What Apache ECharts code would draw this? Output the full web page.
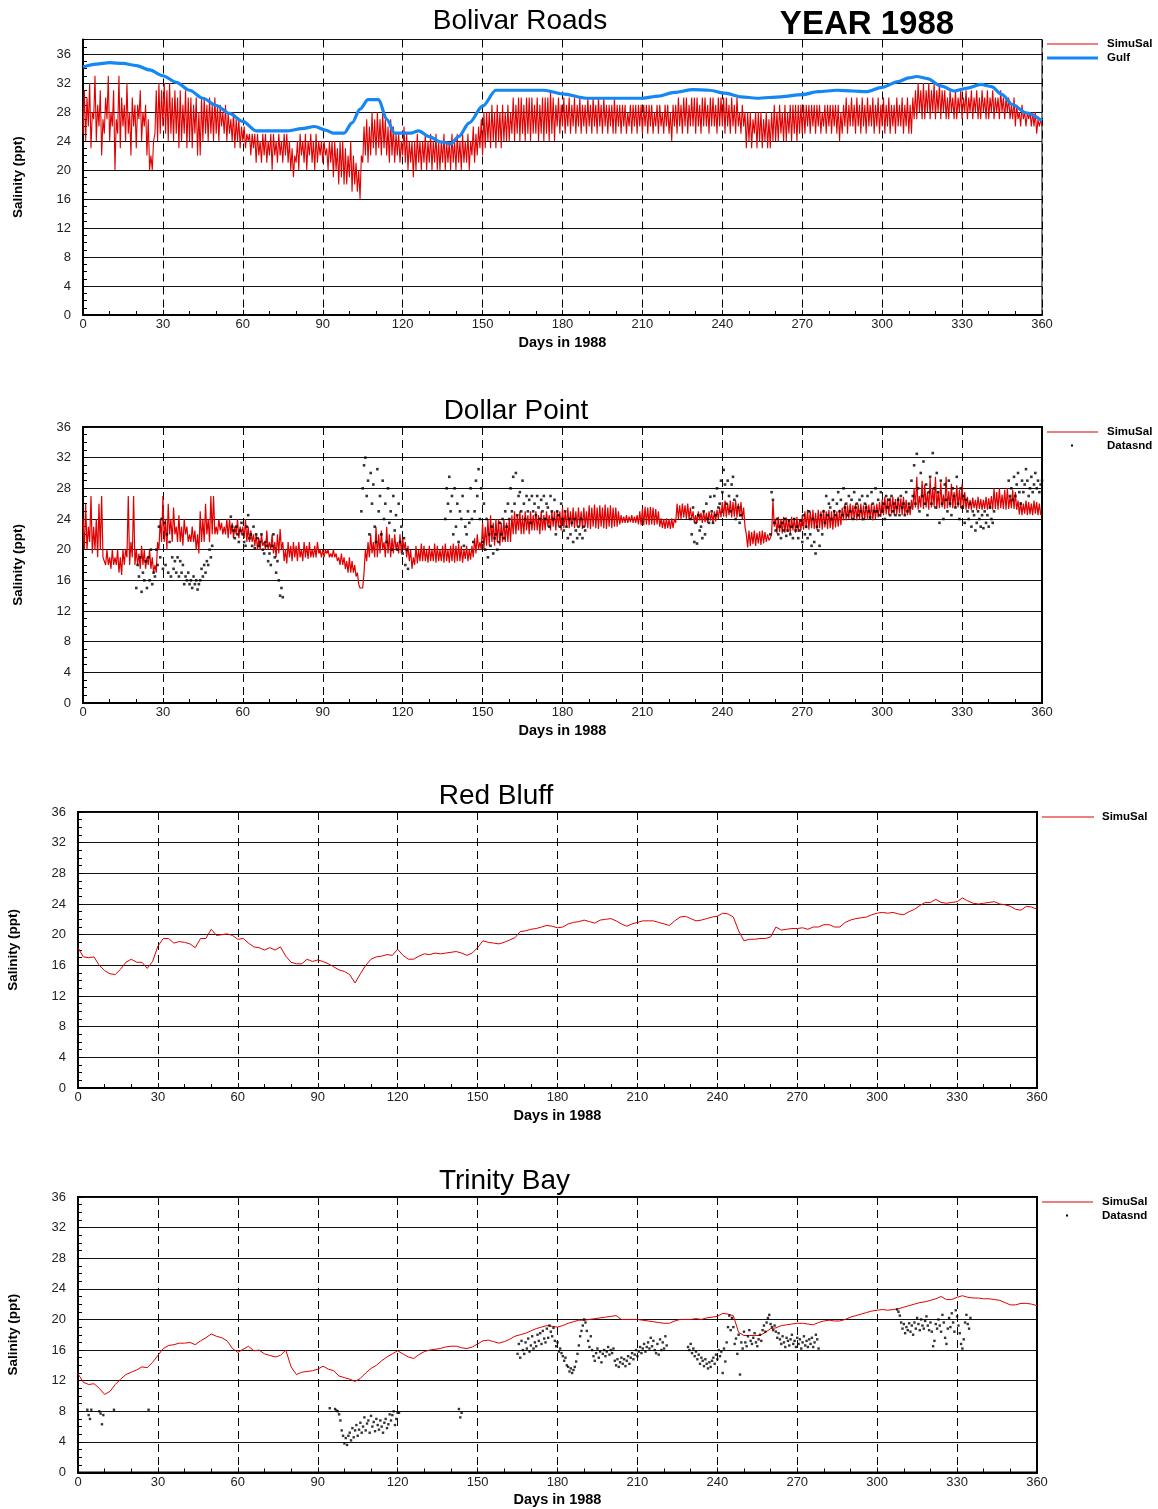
<!DOCTYPE html>
<html><head><meta charset="utf-8">
<script src="https://cdn.jsdelivr.net/npm/echarts@6/dist/echarts.min.js"></script>
<style>html,body{margin:0;padding:0;background:#fff}#c{width:1158px;height:1509px}</style>
</head><body><div id="c"></div>
<script>
// ---------------- DATA ----------------
// Bolivar Roads simulated salinity, one value every 0.5 day from day 0
const brSim = [
25,31,24,30,26,32,23,28,27,33,24,29,26,31,22,27,25,30,27,33,
24,28,26,31,20,27,25,33,23,30,26,29,24,32,25,28,22,30,26,29,
23,29,27,31,24,28,26,29,22,27,20,22,20,24,25,31,24,32,25,31,
26,32,25,31,24,32,25,30,24,31,25,30,23,31,24,29,25,31,23,30,
24,30,23,29,25,30,22,28,22,30,24,30,25,29,24,30,25,29,24,30,
25,29,24,29,26,28,25,29,24,28,25,27,24,28,23,27,24,27,23,26,
24,26,23,25,24,25,22,25,23,25,21,25,22,24,21,25,22,25,21,24,
22,25,20,25,22,24,21,25,22,24,21,25,22,25,21,24,20,23,19,22,
21,24,20,25,22,24,21,25,20,24,22,25,21,24,20,25,21,24,22,24,
21,24,22,23,20,24,21,24,19,24,20,23,18,24,19,24,18,23,18,22,
19,24,17,22,18,21,17,20,16,22,21,26,22,27,21,26,22,28,23,27,
22,28,23,27,22,28,23,27,22,26,21,27,22,26,21,25,22,25,21,24,
22,26,21,25,20,24,21,24,19,24,20,25,21,24,20,24,21,25,20,24,
21,25,20,24,21,25,20,24,20,24,21,25,20,24,21,24,20,25,21,24,
20,25,21,24,20,25,21,24,21,25,20,24,22,26,21,25,22,26,23,27,
22,28,23,28,24,28,23,29,24,28,23,29,24,28,23,29,24,28,24,29,
24,28,25,30,24,29,25,30,24,30,25,29,24,30,25,30,24,30,25,29,
25,30,24,29,25,30,24,30,25,30,24,31,25,30,24,29,26,30,25,29,
26,30,25,29,26,30,25,29,26,30,25,29,26,30,25,29,26,29,25,30,
26,29,25,30,26,29,25,30,26,29,25,30,26,29,25,29,26,29,25,30,
25,29,26,29,25,29,26,29,25,28,26,29,25,29,26,29,25,29,26,29,
25,29,26,29,25,29,26,29,25,28,26,29,25,29,26,28,25,29,26,29,
25,28,24,29,26,29,25,30,26,29,25,30,26,30,25,29,26,30,26,30,
25,30,26,29,25,30,26,30,26,29,25,30,26,30,26,29,25,30,26,30,
26,30,25,30,26,29,25,30,26,29,25,30,26,28,25,29,26,28,23,28,
24,28,23,27,25,28,23,28,24,28,23,27,24,28,23,27,23,28,24,29,
24,28,24,29,25,28,24,29,24,28,25,29,24,29,25,29,24,29,25,29,
25,29,25,29,26,29,25,29,26,29,25,29,26,29,25,28,26,29,25,29,
26,29,25,29,26,29,25,29,24,28,25,29,26,30,25,29,26,30,26,29,
25,30,26,29,25,30,26,29,25,30,26,29,26,30,25,29,26,30,25,29,
26,30,25,29,26,30,25,29,26,29,25,30,26,29,26,30,25,29,26,30,
25,29,25,30,27,31,27,32,28,31,27,32,27,31,28,32,27,31,28,32,
27,31,28,32,27,31,28,31,27,30,27,31,28,30,27,31,27,30,28,31,
27,30,28,31,27,30,28,31,27,30,28,31,27,30,27,31,28,30,27,31,
27,30,28,31,27,30,28,30,27,31,28,30,27,30,28,30,27,29,27,30,
26,29,27,28,26,29,27,28,26,28,27,28,26,28,26,28,25,27,26,27,
26];

// Gulf boundary salinity: [day, value]
const gulf = [[0,34.2],[5,34.6],[10,34.8],[15,34.7],[20,34.4],[25,33.8],[30,33.0],[35,32.1],[40,31.0],[45,29.9],[50,28.9],[55,27.8],[60,26.7],[65,25.4],[70,25.4],[77,25.4],[82,25.7],[87,26.0],[91,25.5],[94,25.1],[98,25.1],[101,26.5],[104,28.4],[107,29.7],[111,29.7],[114,27.0],[117,25.1],[123,25.1],[126,25.4],[130,24.6],[134,23.9],[138,23.6],[141,24.6],[145,26.5],[150,28.8],[155,31.0],[173,31.0],[180,30.5],[189,29.9],[210,29.9],[216,30.2],[222,30.7],[229,31.1],[235,31.0],[241,30.6],[247,30.1],[253,29.9],[262,30.1],[270,30.4],[276,30.8],[283,31.0],[289,30.9],[294,30.8],[300,31.4],[306,32.2],[310,32.7],[313,32.9],[317,32.6],[322,31.6],[327,30.9],[332,31.3],[337,31.8],[341,31.5],[345,30.4],[349,29.0],[354,27.9],[360,26.8]];

// Dollar Point simulated salinity, every 0.5 day from day 0
const dpSim = [
24,20,26,20,23,21,27,19.5,23,20,24,19,26,20,27,19,19,18,20,18,
19,17.5,20,18,19,18,20,17,19,16.7,20,18,20,19,27,18,21,19,27,18,
20,18,19.5,17.5,20.5,18,20,17.5,19,18,20,17.5,19,17,18,17,21,20,24,21,
27,21,24,20,26,22,24,21,25.5,22,23,21,24.5,21,23,20.5,24,22,23,21,
22,21,23,21,22.5,20,22,19.5,25,21,24,21,26,22,24,21,27,22,27,22,
23,22,24,22.5,23.5,22,23,22,24,21.5,24,22,23.5,21.5,23,22,24,21.5,23,22,
23,21.5,24,21,23,21,22.5,21,22,20.5,22,20,21.5,20,22,20.5,21,20,22.5,20,
21,20,22,19.5,21,19,22,19.5,22.7,20,21,18.5,20,18.2,21,19,20.5,18.5,21,19,
20.5,18.5,21,19,20,18.5,21,19,20.5,18.8,21,19,20,19,20.5,19,21,19.5,20,19,
20,19,20,19.5,20,19,19.5,19,20,19,19.5,18.5,19,18,19.5,18,19,17.5,18.5,17,
19,17,18.5,17,18,16.5,17,15.5,15,14.8,15,17,20,18.5,21,19,22,19.5,21,19,
23,19,22,19.5,22.5,20,21,19,23,19.5,22,19,21.5,19.5,22,20,21,19.5,22,19.5,
21.6,20,21,19,20.5,18.5,20,17.5,19,18,20.5,18.2,20,18.5,20.8,18.5,20.5,18.5,20,18.3,
20.5,18.5,20,18.5,20.8,18.3,20.5,18.5,20,18.5,20.5,18.3,20.8,18.5,20,18.3,20.5,18.5,20.8,18.3,
20.5,18.5,20.8,18.5,20.5,18.3,20,18.8,20.5,18.5,20,18.7,20.5,19,21.5,19.5,22,20,21,20,
23.5,20,23,20.5,24,20.5,24.5,21,23.5,20.5,24,21,24,20.5,23.5,21,24,21,23.5,21,
24,21,24.5,22,25,22,24.5,22.5,25,22,24.5,22,25,22.5,24.5,22,25,22.5,24.5,22.5,
25,22.5,24.5,22,25,22.5,24.5,22.5,25,23,24.5,22.5,25,23,25,22.5,25,23,25,22.5,
25.5,22.8,25,23,25.5,22.8,25,23,25.5,22.8,25,23,25.5,23,25,22.7,25.5,23,25,22.8,
25.8,22.7,25.5,23,25.9,22.8,25.5,22.7,25.8,23,25.5,22.8,25.9,22.7,25.5,23,25.8,22.8,25.5,23,
25.5,23,25,23.3,24.5,23.5,24.3,23.5,24.5,23.5,24.3,23.6,24.5,23.5,24.3,23.5,24.5,23.3,25,23.2,
25.4,23.2,25.6,23.3,25.5,23.2,25.6,23.3,25.5,23.2,25.3,23.3,25,23,24.1,22.8,24,22.7,24.1,22.8,
24,22.7,24.1,22.8,24,23.5,26,24,25.8,24,26,24.2,25.8,24,26,24,25.5,24,25,23.5,
24.5,23.5,25,23.8,24.8,23.5,25,23.6,24.8,23.5,25,23.8,24.8,23.5,25,23.7,25.2,24,25.5,24.2,
26.2,24.3,26.4,24.2,26,24.5,26.4,24.2,26.2,24.3,26.4,24.2,26,24.3,26.2,24,25.5,23,22,20.3,
22.5,20.5,22.3,20.7,22.5,20.5,22.2,20.8,22.4,20.6,22.5,20.8,22.3,21,22,21.2,21.5,22,26.4,23,
24,22.1,24.3,22.3,24,22.1,24.3,22.2,24.2,22.3,24,22.1,24.3,22.5,24.1,22.2,24.3,22.3,24,22.5,
24.5,22.6,25,22.8,25.2,22.6,25,22.8,25.2,22.7,24.8,22.6,25.2,22.8,25,22.6,25.2,22.9,25,22.7,
25.2,22.8,25,22.6,25.2,22.9,25,23,25.2,23.2,25.5,23.8,26,23.8,25.8,24,26,23.9,25.8,24,
26,23.8,25.9,24,26,23.8,25.8,24,26,23.9,25.9,24,26,23.8,25.8,24,26,24.2,26.2,24.3,
26.5,24.5,26.9,24.6,26.7,24.5,26.8,24.7,26.9,24.5,26.6,24.6,26.9,24.8,26.7,24.5,26.9,24.6,26.5,24.5,
26,24.5,26.5,25.2,28,25.5,29.5,25.2,27,25.5,29,25.3,28.5,25.5,27.5,25.2,29.3,25.5,28,25.6,
29.5,25.3,27.5,25.4,28.8,25.5,27.2,25.3,29.5,25.4,27.6,25.5,28.6,25.4,27.5,25.5,28.4,25.5,27.8,25.4,
28.6,25.3,27.5,25.2,26.9,25.3,26.5,25.2,26.8,25.4,26.5,25.2,26.9,25.3,26.6,25.2,26.5,25.3,26.9,25.2,
26.7,25.3,27,25.2,28,25.3,27.5,25.2,28,25.4,27.2,25.3,27.8,25.2,28,25.3,27,25.4,27.8,25.3,
27.5,25.2,26.4,24.6,26.2,24.5,26,24.7,26.4,24.5,26.2,24.6,26,24.5,26.4,24.7,26.2,24.5,26,24.6,
24.5];

// Dollar Point observed (Datasnd): [first day, values every 0.5 day]
const dpObs = [
 [20,[15,18,16.5,19,14.5,17,16,18.5, 15,19,16,20,15.5,17,16.5,20, 18,23,19,24,17.5,23.5,18,22,
      17,21,16.5,19,17.5,18.5,17,19, 16.5,18.5,17,18,15.5,16.5,16,17, 15.5,16,15,16.5,15.5,16,14.8,15.5,
      16,17.5,16.5,18,17,18.5,18,20,19,20.5]],
 [55.5,[24.3,23,22.5,21.5,23,22,21,22.5,23.5,22,21,20.5, 23,24.5,21.5,22,20.5,23,20.2,22,
        21.5,20.5,21,22,20,19.5,21,20.5,18.5,19.5,18,20.5, 22,19,17,18.5,16,14,15,13.8]],
 [104.5,[25,28,31,32,27,29,22,30,26,28.5,23,21, 30.5,25,27,22,29,24,26,21,28,23.5,25,20,
         27,22.5,24.5,20,26,21,23,19.5,21.5,18,20,17.5]],
 [136,[24,28,26,29.5,25,27,22,28, 23,26,21,25,24,27,20.5,23,22,25,23.5,28,24,21,25,29,
       27,30.5,24,28,21,26,20,24,19,22,20.5,23,19.5,21.5,22,20, 21,23.5,22,24,21.5,25,23,26,24,28,25,29.5,26,30,24.5,27,
       27.5,25,29,26,24,27,25,26.5,23.5,27,25,26,24.5,27,25.5,24, 26.5,25,27,24,26,25.5,23,27,25,24,26.5,22,25,24.5,23,26,
       24,22.5,25,23,21.5,24,22,23.5,21,24,22.5,21.5,23,22,24,21.5,23,22.5]],
 [228,[24,22,25.5,21,23.5,20.8,24.5,22.5,23,21.5,25,22,26,24,23.5,26.9,25,23.5,
       27,24.5,28,25.5,26,29,27.5,30.4,28.5,26,29,27,25,28.5,29.5,26.5,24,27,25.5,23.5,24.5]],
 [258,[22,27.5,26.5,23.5,22.5,24,22,23,21.5,23.5,22.5,24,21.8,22.5,23.8,22,23,21.5,24,22.5,
       23,21.5,22.5,23.8,21,24.5,22,23,21.5,25,22,20.5,24,21,19.5,23,22.5,20.5,24.5,22,
       25,23.5,27,24.5,26,25.5,24,26.5,25,24.5,26,27.5,25,26.5,24.5,28,25.5,26,24.5,27,
       25,26.5,24,27.5,25.5,26,24.5,26.5,25,27,24,26,25.5,27,25,24.2,27.5,26,25,28,
       25,26.5,24.5,27.5,25,26,24,27,25.5,26.5,24.5,27,25,26,24.5,25.5,26.5,24.5,27,25.5,
       26,24.5,27.5,25,26,25.5,29,27,31,26,32.5,28,25,30,27,31.5,26,28.5,24.5,27.5,
       29.5,26,32.6,28,25.5,30,27.5,23.5,29,26,24,28.5,26.5,25,29,26,24.5,28,27,25.5,
       29.5,26,24,28,25.5,27,23.5,26.5,25,24,26,23,25,24.5,22.5,23.5,25,24,23,
       24.5,22.8,25,23.5,24.5,23,25.5,24,23.5,25]],
 [347.5,[29,27,28,26.5,29.5,27,28.5,30,27.5,26,29,27.5,28.5,30.5,29,27,28,29.5,27.5,28.5,30,28,29,27.5,28.5,29]]
];

// Red Bluff simulated salinity, one value every 2 days from day 0
const rbSim = [18.3,17.1,17.0,17.1,16.0,15.3,14.9,14.8,15.5,16.4,16.8,16.4,16.4,15.6,16.5,18.5,19.5,19.5,18.9,19.1,
19.0,18.8,18.3,19.5,19.5,20.7,19.9,20.0,20.1,19.9,19.4,19.5,18.9,18.4,18.3,18.0,18.3,18.0,18.4,17.2,
16.4,16.2,16.2,16.8,16.5,16.7,16.5,16.2,15.8,15.4,15.2,14.8,13.7,14.9,16.0,16.8,17.1,17.2,17.4,17.3,
18.1,17.3,16.8,16.8,17.2,17.5,17.4,17.6,17.5,17.6,17.7,17.8,17.6,17.3,17.6,18.3,19.2,19.0,18.9,18.8,
19.0,19.3,19.6,20.4,20.5,20.7,20.8,21.0,21.2,21.1,20.9,21.0,21.4,21.6,21.7,21.9,21.7,21.5,21.9,22.0,
22.1,21.8,21.4,21.1,21.4,21.6,21.8,21.8,21.8,21.6,21.4,21.2,21.8,22.3,22.4,22.1,21.8,21.9,22.1,22.3,
22.4,22.8,22.7,22.3,20.5,19.2,19.4,19.4,19.5,19.5,19.7,21.0,20.6,20.7,20.8,20.8,20.9,20.7,21.0,21.0,
21.3,21.3,21.0,21.0,21.6,21.9,22.1,22.2,22.3,22.6,22.8,22.9,22.8,22.9,22.7,22.6,23.0,23.3,23.8,24.2,
24.2,24.6,24.2,24.1,24.2,24.3,24.8,24.4,24.1,24.0,24.1,24.2,24.3,24.0,23.9,23.7,23.3,23.2,23.7,23.6,23.3];

// Trinity Bay simulated salinity, one value every 2 days from day 0
const tbSim = [12.9,11.8,11.5,11.6,11.0,10.2,10.6,11.5,12.2,12.8,13.1,13.4,13.8,13.7,14.4,15.3,16.2,16.6,16.7,16.9,
16.9,17.0,16.7,17.2,17.6,18.1,17.8,17.6,17.2,16.2,15.7,16.1,16.5,15.9,16.0,15.5,15.3,15.1,15.3,16.0,
13.8,12.8,13.1,13.2,13.3,13.5,13.9,13.5,13.3,12.6,12.4,12.2,11.9,12.3,13.0,13.6,14.0,14.6,15.1,15.5,
15.9,15.5,15.1,14.9,15.4,15.8,16.0,16.1,16.2,16.4,16.5,16.5,16.3,16.2,16.4,16.8,17.2,17.3,17.1,16.9,
17.1,17.4,17.8,18.0,18.2,18.5,18.8,19.0,19.2,19.1,19.0,19.2,19.5,19.7,19.9,19.9,20.0,20.1,20.2,20.3,
20.4,20.5,20.0,20.0,20.0,20.0,19.9,19.8,19.7,19.6,19.5,19.5,19.8,20.0,20.0,20.0,20.1,20.0,20.2,20.3,
20.4,20.8,20.7,20.5,18.3,17.9,17.9,17.9,17.9,18.3,18.8,18.9,19.2,19.3,19.4,19.5,19.5,19.4,19.3,19.6,
19.8,19.9,19.8,19.8,20.0,20.3,20.5,20.7,20.9,21.1,21.2,21.3,21.2,21.3,21.4,21.6,21.8,22.0,22.2,22.3,
22.5,22.7,23.0,22.6,22.6,22.9,23.1,22.9,22.8,22.8,22.7,22.7,22.6,22.5,22.2,21.9,21.9,22.1,22.1,22.0,21.8];

// Trinity Bay observed (Datasnd): [first day, values every 0.5 day]
const tbObs = [
 [3.5,[8.2,7.5,7,8.2]],
 [8,[8,7.7,6.3,7.5]],
 [13.5,[8.2]],
 [26.5,[8.2]],
 [94.5,[8.4]],
 [96.5,[8.3,8.1,8,7.6,6.8,5.5,4.8,3.8,4.5,3.6,4.8,5.2,4.2,5.8,4.6,5.5,6.2,4.8,5.6,6.5,5.2,6,7.2,5.5,
        6.4,6.8,5.2,7.4,6,6.6,5.4,7,6.2,5.6,6.8,6,5.2,6.5,7,5.8,6.3,7.6,6.8,7.5,8,6.2,7,7.8,7.8]],
 [143,[8.3,7.2,7.8]],
 [165,[15.5,16.8,15,17.2,16,15.5,17,16.2,17.5,15.8,16.6,17.8,16.2,17,16.5,18,
       17.2,18.2,16.8,18.5,17.5,17,18.8,17.6,19.2,18.4,17.8,18.9,17.2,16.5,17,15.8,
       16.2,15.6,15.2,14.6,15,14,13.8,13.2,13.6,13,13.4,13.8,14.5,15.5,16.6,17.8,
       18.5,19.2,20,19.6,18.5,17.2,16.4,17.8,16,15.2,14.6,15.6,16.2,15,15.8,14.4,
       15.5,16,15.2,15.8,16.4,15.4,16,15.6,16.2,14.6,14,14.8,13.8,14.4,15,14.2,
       14.8,13.9,14.6,15.2,14.2,15,15.6,14.8,15.4,16,15.2,15.8,16.4,15.6,16.2,16.8,
       15.8,16.4,17,16.2,17.6,16.5,17.2,16,15.6,16.8,15.4,17.4,16,17,16.2,17.8,16.6]],
 [229,[16.4,16,16.8,15.6,16.2,15.2,15.8,14.8,15.4,14.2,15,14.6,13.9,14.8,14.2,13.6,
       14.4,13.8,14.6,15,14.2,15.4,14.8,16,15.2,15.8,13,16.2,14.5,17,19,20.5,
       18.6,20.2,19,16.8,17.5,15.5,18,12.8,17,16.2,18.4,17,16.5,17.8,18.6,17.2,
       16.8,17.6,18.2,17,16.5,17.4,18,17.2,18.6,19.2,18.4,19.6,20.2,20.6,19.4,19,
       18.6,19.2,18.4,17.6,18.2,17.4,16.8,17.8,17,16.4,17.6,17.2,16.6,17.4,18,16.8,
       17.2,16.4,17.6,16.8,17.4,16.2,17,17.8,16.6,17.2,16.4,17.4,16.8,17.6,16.4,17,18,17.4,16.2]],
 [307.5,[21.3,21,20.5,19.6,18.8,19.4,18.2,19,18.6,19.5,18.4,19.2,18,19.6,18.8,20.2,19.4,18.6,20,19.2,
         18.8,19.8,20.4,19.2,18.6,19.6,18.4,16.5,17.2,19.4,18.8,20,19.2,18.4,20.6,19.6,17.6,16.8,18.8,20.2,
         19,20.8,19.6,18.4,21.2,20.4,19.2,18.2,16.8,16.2,17.4,19.6,20.6,19.4,18.8,20.2]]
];

const titles = ['Bolivar Roads','Dollar Point','Red Bluff','Trinity Bay'];
const yMax = [38,36,36,36];

// ---------------- BUILD ----------------
const FONT = '"Liberation Sans", Arial, Helvetica, sans-serif';
const halfDay = a => a.map((v,i)=>[i*0.5, v]);
const twoDay = a => a.map((v,i)=>[i*2, v]);
const segs = l => l.flatMap(([s, vals]) => vals.map((v,i)=>[s+i*0.5, v]));

const grids = [
  {left:83, top:39.5, width:959, height:275.5, show:true, borderColor:'#000', borderWidth:1, outerBoundsMode:'none'},
  {left:83, top:427, width:959, height:276, show:true, borderColor:'#000', borderWidth:2, outerBoundsMode:'none'},
  {left:78, top:812, width:959, height:276, show:true, borderColor:'#000', borderWidth:2, outerBoundsMode:'none'},
  {left:78, top:1197, width:959, height:275.5, show:true, borderColor:'#000', borderWidth:2, outerBoundsMode:'none'}
];

function xAx(i){ return {type:'value', gridIndex:i, min:0, max:360, interval:30,
  axisLine:{show:true, onZero:false, lineStyle:{color:'#000', width:2}},
  axisTick:{show:true, inside:true, length:5, lineStyle:{color:'#000', width:1}},
  minorTick:{show:true, splitNumber:3, length:4, lineStyle:{color:'#000', width:1}},
  axisLabel:{margin:3, fontSize:13, color:'#222', fontFamily:FONT, showMinLabel:true, showMaxLabel:true},
  splitLine:{show:true, lineStyle:{color:'#000', width:1, type:[8,5]}},
  minorSplitLine:{show:false},
  name:'Days in 1988', nameLocation:'middle', nameGap:20,
  nameTextStyle:{fontWeight:'bold', fontSize:14.5, color:'#000', fontFamily:FONT}
};}
function yAx(i){ return {type:'value', gridIndex:i, min:0, max:yMax[i], interval:4,
  axisLine:{show:true, onZero:false, lineStyle:{color:'#000', width:2}},
  axisTick:{show:true, inside:true, length:5, lineStyle:{color:'#000', width:1}},
  minorTick:{show:true, splitNumber:4, length:4, lineStyle:{color:'#000', width:1}},
  axisLabel:{margin:12, fontSize:13, color:'#222', fontFamily:FONT, showMinLabel:true, showMaxLabel:yMax[i]===36},
  splitLine:{show:true, lineStyle:{color:'#111', width:1}},
  name:'Salinity (ppt)', nameLocation:'middle', nameGap:58,
  nameTextStyle:{fontWeight:'bold', fontSize:13.5, color:'#000', fontFamily:FONT}
};}

const RED = '#e00000', BLUE = '#1487f5';
const lineS = (name, data, gi, w, color) => ({name, type:'line', xAxisIndex:gi, yAxisIndex:gi, data,
  symbol:'none', showSymbol:false, lineStyle:{color, width:w}, itemStyle:{color}, z:2, animation:false});
const dotS = (name, data, gi, size) => ({name, type:'scatter', xAxisIndex:gi, yAxisIndex:gi, data,
  symbol:'rect', symbolSize:size, itemStyle:{color:'#000'}, z:3, animation:false});

const gulfSeries = lineS('Gulf', gulf, 0, 3.2, BLUE);
gulfSeries.smooth = 0.3; gulfSeries.smoothMonotone = 'x';

const tpos = [[520,7.5],[516,397],[496,782.5],[504.5,1167.5]];
const titleArr = titles.map((t,i)=>({text:t, left:tpos[i][0], top:tpos[i][1], textAlign:'center', padding:0,
  textStyle:{fontSize:28, fontWeight:'normal', color:'#000', fontFamily:FONT}}));
titleArr.push({text:'YEAR 1988', left:867, top:8, textAlign:'center', padding:0,
  textStyle:{fontSize:33, fontWeight:'bold', color:'#000', fontFamily:FONT}});

const lgFont = 'bold 11.5px ' + FONT;
const lgText = (x,y,t) => ({type:'text', x, y, style:{text:t, font:lgFont, fill:'#000', verticalAlign:'middle', align:'left'}});
const lgLine = (x1,x2,y,c,w) => ({type:'line', shape:{x1,y1:y,x2,y2:y}, style:{stroke:c, lineWidth:w}});
const lgDot = (x,y) => ({type:'rect', shape:{x:x-1, y:y-1, width:2, height:2}, style:{fill:'#000'}});

const option = {
  animation:false,
  backgroundColor:'#fff',
  textStyle:{fontFamily:FONT},
  title:titleArr,
  grid:grids,
  xAxis:[0,1,2,3].map(xAx),
  yAxis:[0,1,2,3].map(yAx),
  series:[
    lineS('SimuSal', halfDay(brSim), 0, 1.1, RED),
    gulfSeries,
    lineS('SimuSal', halfDay(dpSim), 1, 1.2, RED),
    dotS('Datasnd', segs(dpObs), 1, 2.6),
    lineS('SimuSal', twoDay(rbSim), 2, 1, RED),
    lineS('SimuSal', twoDay(tbSim), 3, 1, RED),
    dotS('Datasnd', segs(tbObs), 3, 2.4)
  ],
  graphic:{elements:[
    lgLine(1047,1098,44,RED,1.2), lgText(1107,44,'SimuSal'),
    lgLine(1047,1098,58,BLUE,3.2), lgText(1107,58,'Gulf'),
    lgLine(1047,1098,432,RED,1.2), lgText(1107,432,'SimuSal'),
    lgDot(1072,445.5), lgText(1107,445.5,'Datasnd'),
    lgLine(1042,1094,817,RED,1), lgText(1102,817,'SimuSal'),
    lgLine(1042,1093,1202,RED,1), lgText(1102,1202,'SimuSal'),
    lgDot(1067,1215.5), lgText(1102,1215.5,'Datasnd')
  ]}
};
const chart = echarts.init(document.getElementById('c'), null, {renderer:'canvas'});
chart.setOption(option);
</script>
</body></html>
